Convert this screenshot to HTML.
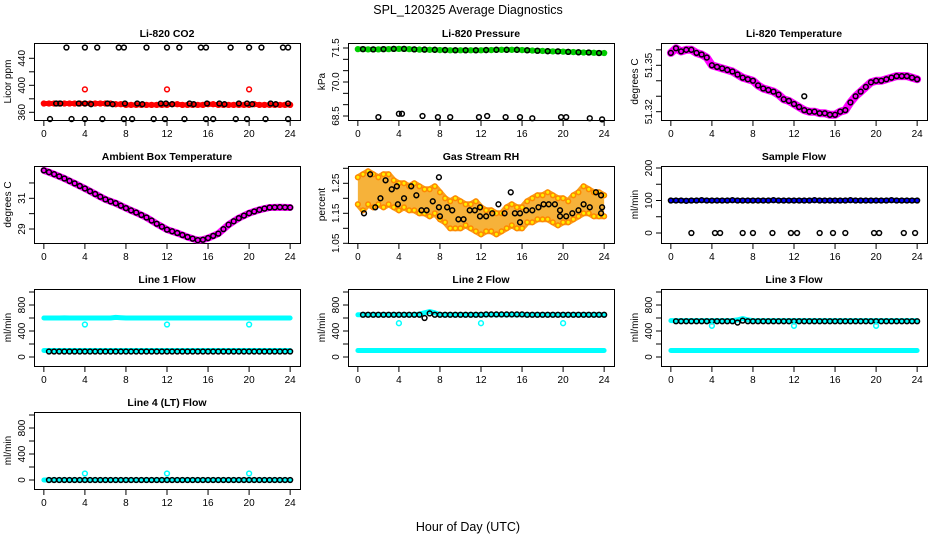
<!DOCTYPE html>
<html><head><meta charset="utf-8"><style>
html,body{margin:0;padding:0;background:#fff;}
svg{display:block;font-family:"Liberation Sans",Arial,sans-serif;}
</style></head><body>
<svg id="chart" width="936" height="540" viewBox="0 0 936 540" xmlns="http://www.w3.org/2000/svg">
<rect x="0" y="0" width="936" height="540" fill="#fff"/>
<text x="468" y="14" text-anchor="middle" font-size="12.5">SPL_120325  Average Diagnostics</text>
<text x="468" y="531" text-anchor="middle" font-size="12.5">Hour of Day (UTC)</text>
</svg>
<script>
const H=[0,0.5,1,1.5,2,2.5,3,3.5,4,4.5,5,5.5,6,6.5,7,7.5,8,8.5,9,9.5,10,10.5,11,11.5,12,12.5,13,13.5,14,14.5,15,15.5,16,16.5,17,17.5,18,18.5,19,19.5,20,20.5,21,21.5,22,22.5,23,23.5,24];
const xTicks=[0,4,8,12,16,20,24];
const co2Red=[373,373,373,373,373,373,373,373,373,373,373,373,373,373,372,372,371,371,371,371,371,371,371,371,371,372,372,371,371,371,371,371,372,372,371,371,371,371,371,371,371,372,371,371,371,371,371,371,371];
const co2RedOutH=[4,12,20];
const co2RedOutV=[394,394,394];
const co2BlkH=[2.2,4,5.2,7.3,7.8,10,12,13.2,15.3,15.8,18.2,20,21.2,23.3,23.8, 0.6,2.7,4,5.7,7.8,8.6,10.7,11.8,13.7,15.8,16.5,18.7,19.8,21.6,23.8, 1.2,1.6,3.4,4,4.6,6.2,6.7,7.9,9.1,9.6,11.4,11.9,12.5,14.2,14.6,15.9,17.1,17.6,19,19.8,20.3,22.1,22.6,23.8];
const co2BlkV=[456,456,456,456,456,456,456,456,456,456,456,456,456,456,456, 350,350,350,350,350,350,350,350,350,350,350,350,350,350,350, 373,373,373,373,372,373,372,373,373,372,373,373,372,373,372,373,373,372,373,373,372,373,372,373];
const pres=[71.45,71.45,71.44,71.44,71.44,71.45,71.45,71.46,71.46,71.46,71.45,71.44,71.43,71.43,71.42,71.42,71.41,71.41,71.40,71.40,71.40,71.40,71.40,71.40,71.40,71.41,71.41,71.42,71.42,71.42,71.42,71.42,71.41,71.40,71.39,71.38,71.37,71.36,71.35,71.35,71.34,71.33,71.32,71.31,71.30,71.30,71.29,71.28,71.28];
const presLowH=[2,4,4.3,6.3,7.8,9,11.8,12.6,14.4,15.8,17,19.8,20.3,22.6,23.8];
const presLowV=[68.45,68.6,68.6,68.5,68.45,68.45,68.45,68.5,68.45,68.45,68.4,68.45,68.45,68.4,68.35];
const liT=[51.358,51.361,51.359,51.360,51.360,51.358,51.357,51.355,51.350,51.349,51.348,51.347,51.346,51.344,51.342,51.341,51.340,51.337,51.335,51.334,51.333,51.331,51.328,51.327,51.325,51.323,51.321,51.320,51.320,51.319,51.319,51.318,51.318,51.320,51.321,51.326,51.330,51.333,51.336,51.339,51.340,51.340,51.341,51.342,51.343,51.343,51.343,51.342,51.341];
const liTOutH=[13];
const liTOutV=[51.330];
const amb=[32.82,32.70,32.57,32.43,32.29,32.13,31.97,31.80,31.64,31.46,31.28,31.10,30.93,30.80,30.68,30.52,30.36,30.21,30.07,29.91,29.75,29.55,29.34,29.15,28.96,28.85,28.74,28.61,28.48,28.37,28.27,28.30,28.41,28.55,28.70,28.99,29.28,29.50,29.71,29.87,30.03,30.14,30.25,30.33,30.40,30.41,30.42,30.41,30.40];
const rhHi=[1.27,1.28,1.29,1.28,1.27,1.28,1.28,1.26,1.25,1.25,1.24,1.25,1.24,1.23,1.23,1.24,1.22,1.20,1.19,1.20,1.19,1.18,1.18,1.19,1.17,1.16,1.16,1.15,1.15,1.17,1.18,1.17,1.17,1.19,1.20,1.21,1.21,1.22,1.21,1.20,1.20,1.19,1.21,1.22,1.24,1.23,1.22,1.22,1.21];
const rhLo=[1.18,1.16,1.18,1.17,1.18,1.17,1.18,1.17,1.16,1.17,1.16,1.16,1.15,1.15,1.14,1.15,1.13,1.12,1.10,1.10,1.10,1.11,1.10,1.09,1.08,1.09,1.09,1.08,1.09,1.10,1.11,1.10,1.10,1.12,1.12,1.13,1.13,1.13,1.12,1.11,1.12,1.12,1.13,1.14,1.15,1.15,1.14,1.14,1.14];
const rhBlkH=[0.6,1.2,1.7,2.2,2.7,3.3,3.8,3.9,4.5,5.2,5.7,6.2,6.7,7.3,7.9,7.9,8,8.7,9.2,9.8,10.3,10.9,11.4,11.9,11.9,12.5,13.1,13.7,14.3,14.9,15.3,15.8,15.8,16.4,17,17.6,18.1,18.6,19.2,19.7,19.7,20.3,20.9,21.5,22,22.6,23.2,23.7,23.7,23.8];
const rhBlkV=[1.15,1.28,1.17,1.20,1.26,1.23,1.24,1.18,1.20,1.24,1.21,1.16,1.16,1.19,1.27,1.17,1.14,1.17,1.16,1.13,1.13,1.16,1.16,1.17,1.14,1.14,1.15,1.18,1.15,1.22,1.15,1.15,1.12,1.16,1.16,1.17,1.18,1.18,1.18,1.16,1.14,1.14,1.15,1.16,1.18,1.17,1.22,1.21,1.15,1.17];
const sampleFlow=[100,100,100,99,100,100,101,100,100,100,100,100,101,100,100,100,100,100,100,100,101,100,100,100,100,100,100,100,101,100,100,100,100,100,100,101,100,100,100,100,100,100,100,101,100,100,100,100,100];
const sampleZeroH=[2,4.3,4.8,7,8,9.9,11.7,12.3,14.5,15.8,17,19.8,20.3,22.7,23.8];
const sampleZeroV=[0,0,0,0,0,0,0,0,0,0,0,0,0,0,0];
const l1Hi=[600,600,600,600,601,600,600,600,600,600,600,600,600,600,610,605,600,600,600,600,600,600,600,600,600,600,600,600,600,600,600,600,600,600,600,600,600,600,600,600,600,600,600,600,600,600,600,600,600];
const l1Lo=[100,100,100,100,100,100,100,100,100,100,100,100,100,100,100,100,100,100,100,100,100,100,100,100,100,100,100,100,100,100,100,100,100,100,100,100,100,100,100,100,100,100,100,100,100,100,100,100,100];
const l1Blk=[null,85,85,85,85,85,85,85,85,85,85,85,85,85,85,85,85,85,85,85,85,85,85,85,85,85,85,85,85,85,85,85,85,85,85,85,85,85,85,85,85,85,85,85,85,85,85,85,85];
const l2Hi=[650,650,650,650,650,650,650,650,650,650,650,650,660,680,700,680,650,650,650,650,650,650,650,650,650,650,650,650,650,650,650,650,650,650,650,650,650,650,650,650,650,650,650,650,650,650,650,650,650];
const l2Blk=[null,650,650,650,650,650,650,650,650,650,650,650,650,600,670,650,650,650,650,650,650,650,650,650,650,655,655,655,655,655,655,655,655,650,650,650,650,650,650,650,650,650,650,650,650,650,650,650,650];
const l2Lo=l1Lo;
const l3Hi=[560,560,560,560,560,560,560,560,560,560,560,560,560,570,590,570,560,560,560,560,560,560,560,560,560,560,560,560,560,560,560,560,560,560,560,560,560,560,560,560,560,560,560,560,560,560,560,560,560];
const l3Blk=[null,550,550,550,550,550,550,550,550,550,550,550,550,530,560,550,550,550,550,550,550,550,550,550,550,550,550,550,550,550,550,550,550,550,550,550,550,550,550,550,550,550,550,550,550,550,550,550,550];
const l3Lo=l1Lo;
const l4Cy=[0,0,0,0,0,0,0,0,0,0,0,0,0,0,0,0,0,0,0,0,0,0,0,0,0,0,0,0,0,0,0,0,0,0,0,0,0,0,0,0,0,0,0,0,0,0,0,0,0];
const l4Blk=[null,0,0,0,0,0,0,0,0,0,0,0,0,0,0,0,0,0,0,0,0,0,0,0,0,0,0,0,0,0,0,0,0,0,0,0,0,0,0,0,0,0,0,0,0,0,0,0,0];
const outH=[4,12,20];
const l1Out=[500,500,500];
const l2Out=[520,520,520];
const l3Out=[480,480,480];
const l4Out=[100,100,100];

const NS='http://www.w3.org/2000/svg';
const svg=document.getElementById('chart');
function el(tag,parent){const e=document.createElementNS(NS,tag);(parent||svg).appendChild(e);return e;}
function makePanel(col,row,title,ylab,vA,pA,vB,pB,ticks,labels){
  const left=[34,348,661][col], top=43+123*row, w=266, h=77;
  const g=el('g');
  
  
  const off=123*row;
  const p={g,left,top,w,h,
    x:hr=>left+(hr+0.96)*(w/25.92),
    y:v=>pA+off+(v-vA)*((pB-pA)/(vB-vA))};
  const box=el('rect',g);
  
  
  box.setAttribute('x',left+0.5);box.setAttribute('y',top+0.5);box.setAttribute('width',w);box.setAttribute('height',h);
  box.setAttribute('fill','none');box.setAttribute('stroke','#000');
  const t=el('text',g);
  
  
  t.setAttribute('x',left+w/2);t.setAttribute('y',top-6);t.setAttribute('text-anchor','middle');
  t.setAttribute('font-size','10.5');t.setAttribute('font-weight','bold');t.textContent=title;
  xTicks.forEach(v=>{
    const X=p.x(v);
    const l=el('line',g);
    
    
    l.setAttribute('x1',X);l.setAttribute('x2',X);l.setAttribute('y1',top+h+0.5);l.setAttribute('y2',top+h+6);l.setAttribute('stroke','#000');
    const s=el('text',g);
    
    
    s.setAttribute('x',X);s.setAttribute('y',top+h+17);s.setAttribute('text-anchor','middle');s.setAttribute('font-size','10');s.textContent=v;
  });
  ticks.forEach(v=>{
    const Y=p.y(v);
    const l=el('line',g);
    
    
    l.setAttribute('x1',left-5);l.setAttribute('x2',left+0.5);l.setAttribute('y1',Y);l.setAttribute('y2',Y);l.setAttribute('stroke','#000');
  });
  labels.forEach(lb=>{
    const Y=p.y(parseFloat(lb));
    const s=el('text',g);
    
    
    s.setAttribute('transform','translate('+(left-9)+','+Y+') rotate(-90)');
    s.setAttribute('text-anchor','middle');s.setAttribute('font-size','10');s.textContent=lb;
  });
  const yl=el('text',g);
  
  
  yl.setAttribute('transform','translate('+(left-23)+','+(top+h/2)+') rotate(-90)');
  yl.setAttribute('text-anchor','middle');yl.setAttribute('font-size','10');yl.textContent=ylab;
  return p;
}
function band(p,hs,vs,color,width,name){
  const pts=[];hs.forEach((hr,i)=>{if(vs[i]!=null)pts.push(p.x(hr).toFixed(1)+','+p.y(vs[i]).toFixed(1));});
  const pl=el('polyline',p.g);
  
  
  pl.setAttribute('points',pts.join(' '));pl.setAttribute('fill','none');pl.setAttribute('stroke',color);
  pl.setAttribute('stroke-width',width);pl.setAttribute('stroke-linejoin','round');pl.setAttribute('stroke-linecap','round');
}
function dots(p,hs,vs,color,name,fill,r){
  hs.forEach((hr,i)=>{
    if(vs[i]==null)return;
    const c=el('circle',p.g);
    
    
    c.setAttribute('cx',p.x(hr));c.setAttribute('cy',p.y(vs[i]));c.setAttribute('r',r||2.4);
    c.setAttribute('fill',fill||'none');c.setAttribute('stroke',color);c.setAttribute('stroke-width','1.5');
  });
}
// Row 1
let p=makePanel(0,0,'Li-820 CO2','Licor ppm',440,58.3,360,112.3,[360,380,400,420,440],['360','400','440']);
band(p,H,co2Red,'#ff0000',5,'co2-red-band');dots(p,H,co2Red,'#ff0000','co2-red-point');
dots(p,co2RedOutH,co2RedOutV,'#ff0000','co2-red-outlier');dots(p,co2BlkH,co2BlkV,'#000','co2-black-point');
p=makePanel(1,0,'Li-820 Pressure','kPa',71.5,48,68.5,116,[68.5,69,69.5,70,70.5,71,71.5],['68.5','70.0','71.5']);
band(p,H,pres,'#00cc00',5,'pressure-green-band');dots(p,H,pres,'#00cc00','pressure-green-point');
dots(p,H.filter((v,i)=>i%2==1),pres.filter((v,i)=>i%2==1),'#000','pressure-black-point');
dots(p,presLowH,presLowV,'#000','pressure-low-point');
p=makePanel(2,0,'Li-820 Temperature','degrees C',51.35,65.3,51.32,111.7,[51.32,51.33,51.34,51.35,51.36],['51.32','51.35']);
band(p,H,liT,'#ff00ff',8,'li-temp-band');dots(p,H,liT,'#000','li-temp-black-point');dots(p,liTOutH,liTOutV,'#000','li-temp-outlier');
// Row 2
p=makePanel(0,1,'Ambient Box Temperature','degrees C',31,75.3,29,106,[29,30,31,32],['29','31']);
band(p,H,amb,'#ff00ff',7,'ambient-temp-band');dots(p,H,amb,'#000','ambient-temp-black-point');
p=makePanel(1,1,'Gas Stream RH','percent',1.25,60.3,1.05,120.3,[1.05,1.1,1.15,1.2,1.25,1.3],['1.05','1.15','1.25']);
band(p,H,rhHi,'#f7a020',6,'rh-high-band');band(p,H,rhLo,'#f7a020',6,'rh-low-band');
{const pts=[];H.forEach((hr,i)=>pts.push(p.x(hr)+','+p.y(rhHi[i])));for(let i=H.length-1;i>=0;i--)pts.push(p.x(H[i])+','+p.y(rhLo[i]));
const pg=el('polygon',p.g);


pg.setAttribute('points',pts.join(' '));pg.setAttribute('fill','#f6b23a');}
dots(p,H,rhHi,'#ff8800','rh-orange-point','#ffee00',2.3);dots(p,H,rhLo,'#ff8800','rh-orange-point','#ffee00',2.3);
dots(p,rhBlkH,rhBlkV,'#000','rh-black-point');
p=makePanel(2,1,'Sample Flow','ml/min',200,45,0,110,[0,50,100,150,200],['0','100','200']);
band(p,H,sampleFlow,'#0000ff',5,'sample-flow-blue-band');dots(p,H,sampleFlow,'#000','sample-flow-black-point');
dots(p,sampleZeroH,sampleZeroV,'#000','sample-flow-zero-point');
// Row 3
const ft=[0,200,400,600,800,1000], fl=['0','400','800'];
p=makePanel(0,2,'Line 1 Flow','ml/min',0,111,1000,46,ft,fl);
band(p,H,l1Hi,'#00ffff',5,'line1-cyan-high');band(p,H,l1Lo,'#00ffff',5,'line1-cyan-low');
dots(p,H,l1Blk,'#000','line1-black-point');dots(p,outH,l1Out,'#00ffff','line1-outlier');
p=makePanel(1,2,'Line 2 Flow','ml/min',0,111,1000,46,ft,fl);
band(p,H,l2Hi,'#00ffff',5,'line2-cyan-high');band(p,H,l2Lo,'#00ffff',5,'line2-cyan-low');
dots(p,H,l2Blk,'#000','line2-black-point');dots(p,outH,l2Out,'#00ffff','line2-outlier');
p=makePanel(2,2,'Line 3 Flow','ml/min',0,111,1000,46,ft,fl);
band(p,H,l3Hi,'#00ffff',5,'line3-cyan-high');band(p,H,l3Lo,'#00ffff',5,'line3-cyan-low');
dots(p,H,l3Blk,'#000','line3-black-point');dots(p,outH,l3Out,'#00ffff','line3-outlier');
// Row 4
p=makePanel(0,3,'Line 4 (LT) Flow','ml/min',0,111,1000,46,ft,fl);
band(p,H,l4Cy,'#00ffff',5,'line4-cyan-band');dots(p,H,l4Blk,'#000','line4-black-point');
dots(p,outH,l4Out,'#00ffff','line4-outlier');
</script>
</body></html>
